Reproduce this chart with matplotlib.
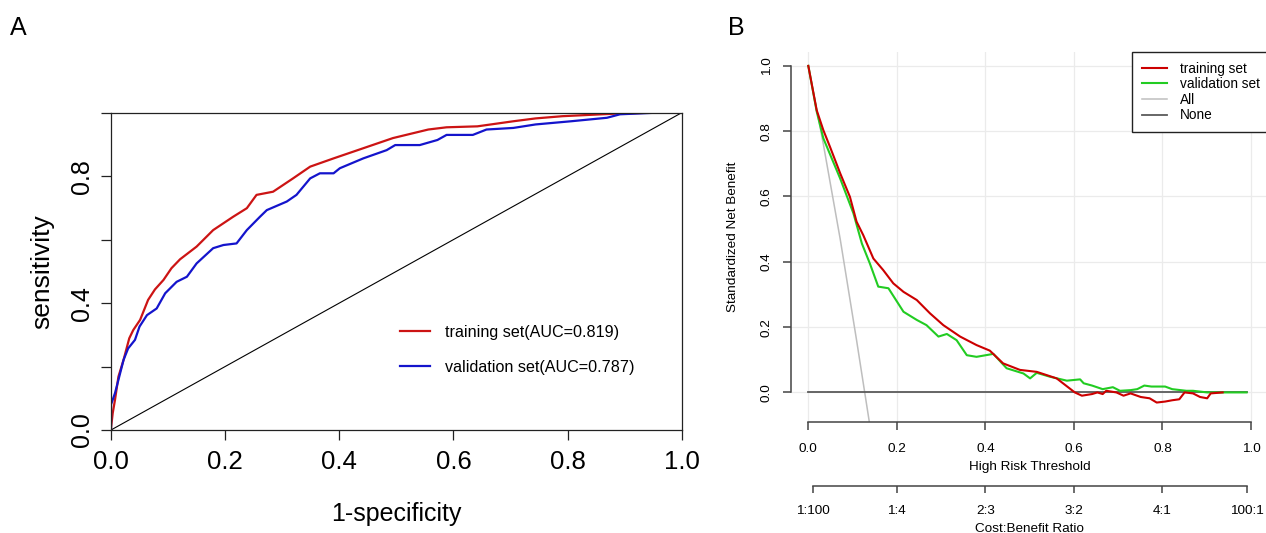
import matplotlib
matplotlib.use("Agg")
import matplotlib.pyplot as plt
from matplotlib.lines import Line2D

plt.rcParams['font.family'] = ['Liberation Sans', 'DejaVu Sans']

# ROC curves (panel A)
train_fpr = [0.0, 0.0, 0.003, 0.007, 0.013, 0.022, 0.032, 0.039, 0.051, 0.065, 0.077, 0.092,
             0.106, 0.121, 0.150, 0.179, 0.214, 0.238, 0.255, 0.284, 0.319, 0.349, 0.390,
             0.442, 0.494, 0.556, 0.588, 0.642, 0.705, 0.744, 0.791, 0.884, 0.947, 1.0]
train_tpr = [0.0, 0.006, 0.053, 0.095, 0.168, 0.221, 0.289, 0.315, 0.347, 0.410, 0.443, 0.473,
             0.510, 0.538, 0.578, 0.630, 0.672, 0.699, 0.741, 0.751, 0.793, 0.830, 0.856,
             0.888, 0.920, 0.947, 0.954, 0.957, 0.973, 0.982, 0.989, 0.997, 1.0, 1.0]

valid_fpr = [0.0, 0.0, 0.007, 0.013, 0.022, 0.030, 0.042, 0.050, 0.063, 0.080, 0.095, 0.115,
             0.133, 0.150, 0.179, 0.197, 0.220, 0.238, 0.261, 0.273, 0.308, 0.325, 0.349,
             0.366, 0.390, 0.401, 0.442, 0.483, 0.498, 0.541, 0.572, 0.588, 0.634, 0.658,
             0.705, 0.744, 0.806, 0.869, 0.892, 0.955, 1.0]
valid_tpr = [0.0, 0.08, 0.116, 0.158, 0.221, 0.257, 0.284, 0.326, 0.362, 0.383, 0.431, 0.467,
             0.483, 0.525, 0.573, 0.583, 0.588, 0.630, 0.672, 0.693, 0.720, 0.741, 0.793,
             0.809, 0.809, 0.825, 0.856, 0.882, 0.898, 0.898, 0.914, 0.930, 0.930, 0.947,
             0.952, 0.963, 0.973, 0.984, 0.995, 1.0, 1.0]

diag = [0.0, 1.0]

# Decision curves (panel B)
train_thr = [0.0, 0.019, 0.034, 0.049, 0.072, 0.094, 0.109, 0.124, 0.147, 0.169, 0.192, 0.215,
             0.245, 0.275, 0.305, 0.343, 0.380, 0.410, 0.440, 0.478, 0.516, 0.561, 0.602,
             0.618, 0.641, 0.653, 0.665, 0.673, 0.696, 0.712, 0.728, 0.751, 0.771, 0.787,
             0.806, 0.822, 0.838, 0.850, 0.869, 0.885, 0.901, 0.909, 0.936]
train_nb = [1.0, 0.864, 0.803, 0.752, 0.671, 0.599, 0.523, 0.482, 0.410, 0.375, 0.334, 0.308,
            0.283, 0.242, 0.206, 0.171, 0.145, 0.128, 0.089, 0.069, 0.063, 0.043, 0.0,
            -0.010, -0.005, 0.0, -0.005, 0.005, 0.0, -0.010, -0.003, -0.014, -0.018, -0.031,
            -0.028, -0.024, -0.021, 0.0, -0.003, -0.014, -0.018, -0.003, 0.0]

valid_thr = [0.0, 0.019, 0.034, 0.072, 0.102, 0.121, 0.139, 0.158, 0.181, 0.215, 0.245, 0.267,
             0.294, 0.313, 0.335, 0.358, 0.380, 0.418, 0.448, 0.486, 0.501, 0.516, 0.546,
             0.584, 0.614, 0.622, 0.641, 0.665, 0.688, 0.704, 0.728, 0.743, 0.759, 0.775,
             0.806, 0.822, 0.854, 0.869, 0.901, 0.990]
valid_nb = [1.0, 0.86, 0.778, 0.655, 0.548, 0.456, 0.395, 0.324, 0.319, 0.247, 0.222, 0.206,
            0.171, 0.179, 0.160, 0.114, 0.109, 0.118, 0.074, 0.058, 0.043, 0.060, 0.048,
            0.036, 0.040, 0.028, 0.021, 0.010, 0.016, 0.005, 0.007, 0.010, 0.021, 0.018,
            0.018, 0.010, 0.005, 0.005, 0.0, 0.0]

all_thr = [0.0, 0.034, 0.072, 0.109, 0.138]
all_nb = [1.0, 0.76, 0.47, 0.16, -0.092]

none_thr = [0.0, 0.99]
none_nb = [0.0, 0.0]

ticks = [0.0, 0.2, 0.4, 0.6, 0.8, 1.0]
tick_labels = ['0.0', '0.2', '0.4', '0.6', '0.8', '1.0']
roc_y_labels = ['0.0', '', '0.4', '', '0.8', '']
cost_pos = [0.0099, 0.2, 0.4, 0.6, 0.8, 0.99]
cost_labels = ['1:100', '1:4', '2:3', '3:2', '4:1', '100:1']

fig = plt.figure(figsize=(12.66, 5.33), dpi=100)

# ---------------- panel A ----------------
axA = fig.add_axes([111 / 1266, 103 / 533, 570.7 / 1266, 317.3 / 533])
axA.plot(train_fpr, train_tpr, color='#CC1414', lw=1.6, label='training set(AUC=0.819)')
axA.plot(valid_fpr, valid_tpr, color='#1414CC', lw=1.6, label='validation set(AUC=0.787)')
axA.plot(diag, diag, color='black', lw=0.8)
axA.set_xlim(0, 1)
axA.set_ylim(0, 1)
for s in axA.spines.values():
    s.set_color('#222222')
    s.set_linewidth(0.9)
axA.set_xticks(ticks)
axA.set_xticklabels(tick_labels, fontsize=18.5)
axA.set_yticks(ticks)
axA.set_yticklabels(roc_y_labels, fontsize=18, rotation=90, va='center')
axA.tick_params(direction='out', length=7.2, width=0.9, color='#222222')
axA.tick_params(axis='x', pad=7)
axA.tick_params(axis='y', pad=5)
axA.set_xlabel('1-specificity', fontsize=18)
axA.xaxis.set_label_coords(0.5, (430 - 514) / 317.3)
axA.xaxis.label.set_va('center')
axA.set_ylabel('sensitivity', fontsize=19)
axA.yaxis.set_label_coords((42 - 111) / 570.7, 0.5)
axA.yaxis.label.set_va('center')
axA.legend(loc='upper left', bbox_to_anchor=((400 - 111) / 570.7, (430 - 325) / 317.3),
           frameon=False, fontsize=11.6, handlelength=1.86, handletextpad=0.93,
           labelspacing=1.25, borderpad=0, borderaxespad=0)
fig.text(10 / 1266, 1 - 28 / 533, 'A', fontsize=18, va='center', ha='left')

# ---------------- panel B ----------------
axB = fig.add_axes([790.6 / 1266, (533 - 422.3) / 533, 478.1 / 1266, 370.3 / 533])
axB.grid(True, color='#EBEBEB', lw=0.9)
axB.set_axisbelow(True)
axB.plot(all_thr, all_nb, color='#BEBEBE', lw=1.1, label='All')
axB.plot(none_thr, none_nb, color='#5A5A5A', lw=1.3, label='None')
axB.plot(valid_thr, valid_nb, color='#22CC22', lw=1.5, label='validation set')
axB.plot(train_thr, train_nb, color='#CC0000', lw=1.5, label='training set')
axB.set_xlim(-0.04, 1.04)
axB.set_ylim(-0.0915, 1.0425)
axB.spines['top'].set_visible(False)
axB.spines['right'].set_visible(False)
for side in ['left', 'bottom']:
    axB.spines[side].set_bounds(0, 1)
    axB.spines[side].set_color('#444444')
    axB.spines[side].set_linewidth(1.1)
axB.set_xticks(ticks)
axB.set_xticklabels(tick_labels, fontsize=9.7)
axB.set_yticks(ticks)
axB.set_yticklabels(tick_labels, fontsize=9.7, rotation=90, va='center')
axB.tick_params(direction='out', length=6, width=1.1, color='#444444')
axB.tick_params(axis='x', pad=9)
axB.tick_params(axis='y', pad=7)
axB.set_xlabel('High Risk Threshold', fontsize=9.7, labelpad=4.5)
axB.set_ylabel('Standardized Net Benefit', fontsize=9.7)
axB.yaxis.set_label_coords((733 - 790.6) / 478.1, 0.5)
axB.yaxis.label.set_va('center')

sec = axB.secondary_xaxis(-(486 - 422.3) / 370.3)
sec.set_xticks(cost_pos)
sec.set_xticklabels(cost_labels, fontsize=9.7)
sec.spines['bottom'].set_bounds(cost_pos[0], cost_pos[-1])
sec.spines['bottom'].set_color('#444444')
sec.spines['bottom'].set_linewidth(1.1)
sec.tick_params(direction='out', length=5, width=1.1, color='#444444', pad=9)
sec.set_xlabel('Cost:Benefit Ratio', fontsize=9.7, labelpad=4)

handles = [Line2D([], [], color='#CC0000', lw=1.5),
           Line2D([], [], color='#22CC22', lw=1.5),
           Line2D([], [], color='#BEBEBE', lw=1.1),
           Line2D([], [], color='#5A5A5A', lw=1.3)]
leg = axB.legend(handles, ['training set', 'validation set', 'All', 'None'],
                 loc='upper left', bbox_to_anchor=((1132 - 790.6) / 478.1, 1.0),
                 fontsize=9.8, frameon=True, fancybox=False, framealpha=1,
                 edgecolor='#222222', borderpad=0.7, labelspacing=0.12,
                 handlelength=1.9, handletextpad=0.9, borderaxespad=0)
leg.get_frame().set_linewidth(1.0)
fig.text(728 / 1266, 1 - 28 / 533, 'B', fontsize=18, va='center', ha='left')

fig.savefig('out.png', dpi=100)
